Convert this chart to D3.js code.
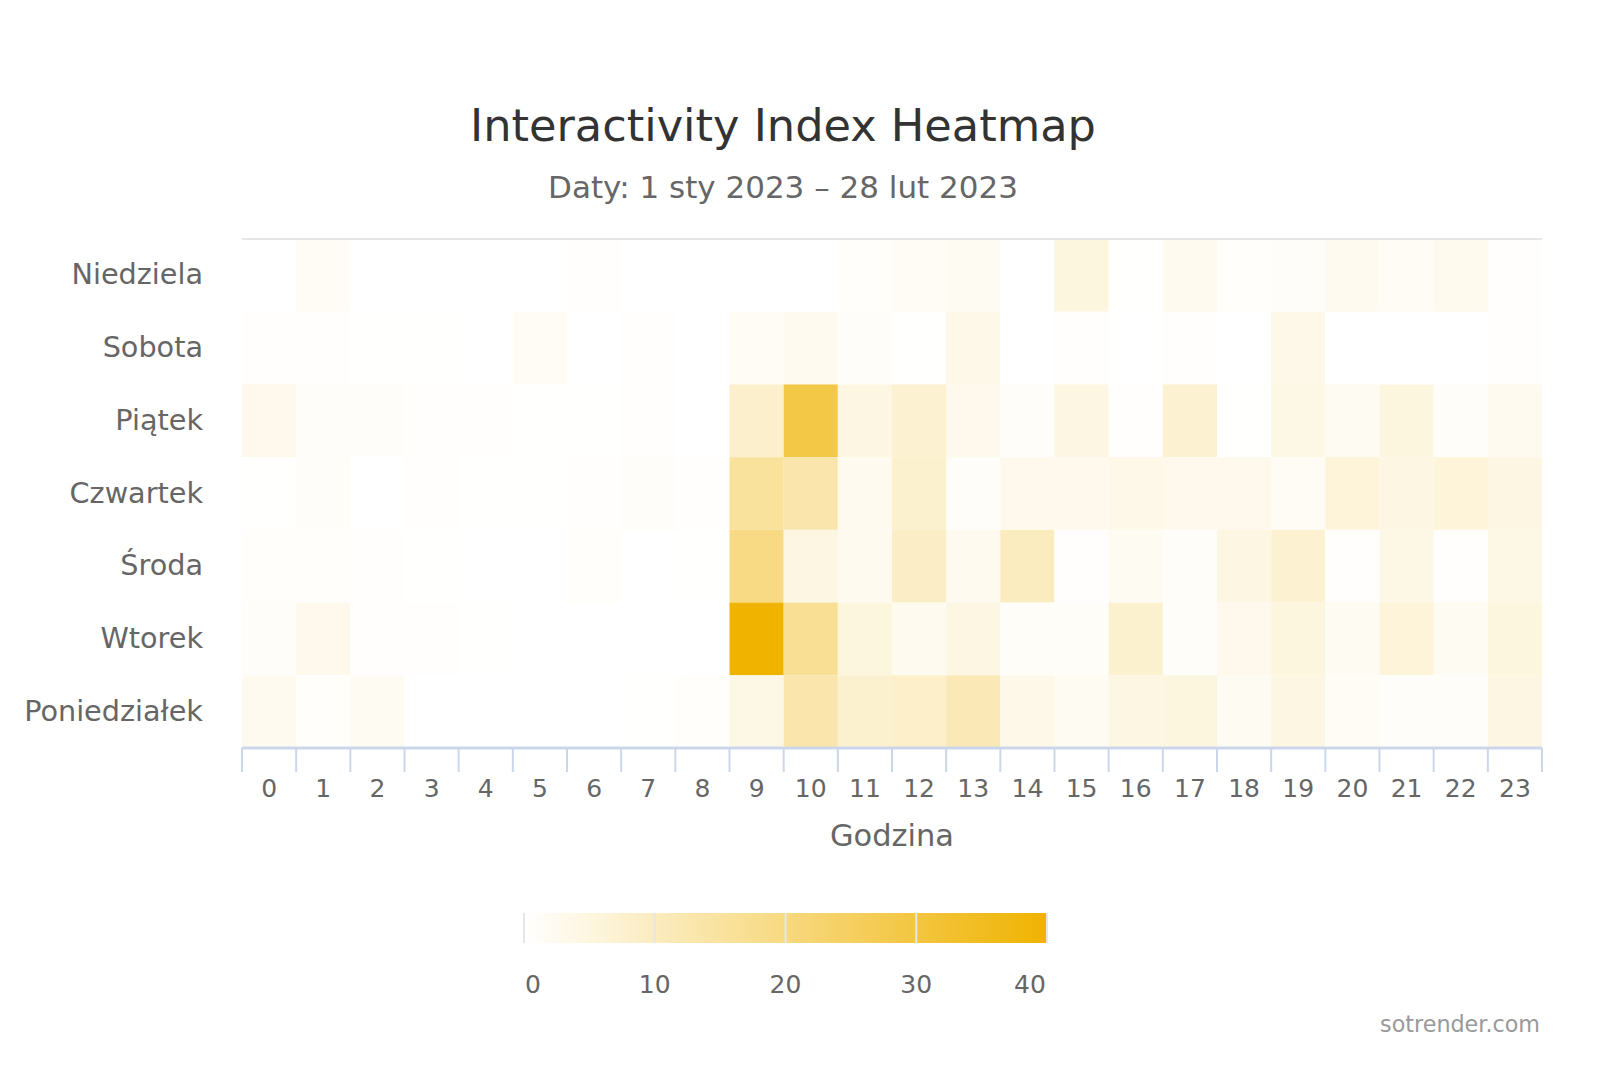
<!DOCTYPE html>
<html>
<head>
<meta charset="utf-8">
<script src="https://cdn.jsdelivr.net/npm/d3@7"></script>
<style>
  html, body { margin: 0; padding: 0; background: #fff; }
  svg { display: block; }
  text { font-family: "DejaVu Sans", "Noto Sans", sans-serif; }
</style>
</head>
<body>
<svg id="chart" width="1600" height="1067"></svg>
<script>
// ---- data ----
const hours = ["0","1","2","3","4","5","6","7","8","9","10","11","12","13","14","15","16","17","18","19","20","21","22","23"];
const days = ["Niedziela","Sobota","Piątek","Czwartek","Środa","Wtorek","Poniedziałek"];
const niedziela    = [0,1.5,0,0,0,0,0.5,0,0,0,0,0.7,1.5,2,0,5,0.2,2.5,0.7,0.8,2.5,1.5,2.8,0.5];
const sobota       = [0.5,0.4,0.1,0.1,0,1.5,0,0.4,0,1.5,2.5,1,0.1,3.5,0,0.4,0,0.4,0,3.5,0,0,0,0.3];
const piatek       = [3,0.8,1,0.5,0.3,0.2,0.1,0.4,0,8,29,4.5,7,3,1,4.5,0.4,7,0.1,4,2,5,0.8,2.5];
const czwartek     = [0.2,1,0,0.4,0.1,0.2,0.3,0.8,0.5,15.5,13,2.5,7.5,0.8,3,3,3.5,3,3,1.5,6,4.5,6,4.5];
const sroda        = [0.6,0.6,0.5,0.1,0,0,0.6,0,0.1,19.5,4.5,2.5,9,2.5,10,0.5,2,1,4.5,7,0.5,4,0.4,4];
const wtorek       = [1,3,0.4,0.3,0.2,0,0,0,0,40,17,5,2.5,4.5,1.2,1.2,7.5,0.8,3,5,2,6,2,5];
const poniedzialek = [2.5,0.6,2,0,0,0,0,0.1,0.6,4,13,7.5,8.5,11.5,3.5,2,4.5,5,2,4.5,1.5,0.8,0.8,4.5];
const rows = [niedziela, sobota, piatek, czwartek, sroda, wtorek, poniedzialek];
const legendTicks = [0,10,20,30,40];
const colorMax = 40;

const title = "Interactivity Index Heatmap";
const subtitle = "Daty: 1 sty 2023 – 28 lut 2023";
const xTitle = "Godzina";
const credit = "sotrender.com";

// ---- layout ----
const svg = d3.select("#chart");
const plot = {left: 242, right: 1542, top: 239, bottom: 748};

const x = d3.scaleBand().domain(hours).range([plot.left, plot.right]).padding(0);
const y = d3.scaleBand().domain(days).range([plot.top, plot.bottom]).padding(0);
const color = d3.scaleLinear().domain([0, colorMax]).range(["#ffffff", "#efb300"]).clamp(true);

function fitSize(sel, target, base) {
  sel.attr("font-size", base);
  const w = sel.node().getComputedTextLength();
  const s = base * target / w;
  sel.attr("font-size", s);
  return s;
}

// cells
const cells = [];
rows.forEach((r, i) => r.forEach((v, j) => cells.push({day: days[i], hour: hours[j], v})));
svg.append("g").selectAll("rect").data(cells).join("rect")
  .attr("x", d => x(d.hour))
  .attr("y", d => y(d.day))
  .attr("width", x.bandwidth())
  .attr("height", y.bandwidth())
  .attr("fill", d => color(d.v));

// top grid line
svg.append("line").attr("x1", plot.left).attr("x2", plot.right)
  .attr("y1", plot.top).attr("y2", plot.top)
  .attr("stroke", "#e6e6e6").attr("stroke-width", 2);

// x axis
const xAxisG = svg.append("g").attr("transform", `translate(0,${plot.bottom})`);
xAxisG.append("line").attr("x1", plot.left).attr("x2", plot.right)
  .attr("y1", 0).attr("y2", 0).attr("stroke", "#ccd6eb").attr("stroke-width", 3);
const tickPos = hours.map(h => x(h)).concat([plot.right]);
xAxisG.selectAll("line.tick").data(tickPos).join("line").attr("class", "tick")
  .attr("x1", d => d).attr("x2", d => d).attr("y1", 0).attr("y2", 24)
  .attr("stroke", "#ccd6eb").attr("stroke-width", 2);
const xl = xAxisG.selectAll("text").data(hours).join("text")
  .attr("x", d => x(d) + x.bandwidth() / 2).attr("y", 49)
  .attr("text-anchor", "middle").attr("fill", "#666")
  .attr("font-size", 25).text(d => d);

// y labels
const yl = svg.append("g").selectAll("text").data(days).join("text")
  .attr("x", 203).attr("y", d => y(d) + y.bandwidth() / 2 + 9)
  .attr("text-anchor", "end").attr("fill", "#666").text(d => d);
const ys = fitSize(yl.filter(d => d === "Poniedziałek"), 179, 26);
yl.attr("font-size", ys);

// title / subtitle
const t = svg.append("text").attr("x", 783).attr("y", 141).attr("text-anchor", "middle")
  .attr("fill", "#333").text(title);
fitSize(t, 626, 40);
const st = svg.append("text").attr("x", 783).attr("y", 198).attr("text-anchor", "middle")
  .attr("fill", "#666").text(subtitle);
fitSize(st, 470, 28);

// x title
const xt = svg.append("text").attr("x", 892).attr("y", 846).attr("text-anchor", "middle")
  .attr("fill", "#666").text(xTitle);
fitSize(xt, 124, 28);

// legend
const lg = {x0: 524, x1: 1047, y: 913, h: 30};
const lx = d3.scaleLinear().domain([0, colorMax]).range([lg.x0, lg.x1]);
const defs = svg.append("defs");
const grad = defs.append("linearGradient").attr("id", "lgrad");
grad.append("stop").attr("offset", "0%").attr("stop-color", color(0));
grad.append("stop").attr("offset", "100%").attr("stop-color", color(colorMax));
svg.append("rect").attr("x", lg.x0).attr("y", lg.y).attr("width", lg.x1 - lg.x0).attr("height", lg.h)
  .attr("fill", "url(#lgrad)");
svg.append("g").selectAll("line").data(legendTicks).join("line")
  .attr("x1", d => lx(d)).attr("x2", d => lx(d))
  .attr("y1", lg.y).attr("y2", lg.y + lg.h)
  .attr("stroke", "#e6e6e6").attr("stroke-width", 2);
svg.append("g").selectAll("text").data(legendTicks).join("text")
  .attr("x", (d, i) => i === legendTicks.length - 1 ? lx(d) - 17 : (i === 0 ? lx(d) + 9 : lx(d)))
  .attr("y", 993).attr("text-anchor", "middle").attr("fill", "#666")
  .attr("font-size", 25).text(d => d);

// credit
const cr = svg.append("text").attr("x", 1540).attr("y", 1032).attr("text-anchor", "end")
  .attr("fill", "#999").text(credit);
fitSize(cr, 160, 20);
</script>
</body>
</html>
